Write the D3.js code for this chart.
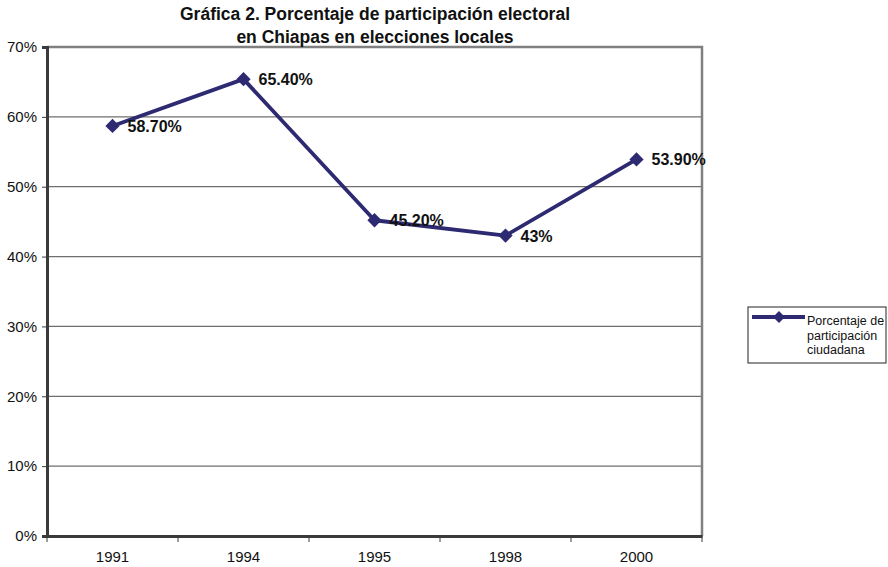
<!DOCTYPE html>
<html>
<head>
<meta charset="utf-8">
<script src="https://cdn.jsdelivr.net/npm/d3@7"></script>
<style>
  html, body { margin: 0; padding: 0; background: #fff; }
  svg { display: block; font-family: "Liberation Sans", Arial, sans-serif; }
</style>
</head>
<body>
<svg id="chart" width="888" height="567"></svg>
<script>
// Electoral turnout in Chiapas, local elections
const years = ["1991", "1994", "1995", "1998", "2000"];
const turnout = [58.7, 65.4, 45.2, 43, 53.9];
const valueLabels = ["58.70%", "65.40%", "45.20%", "43%", "53.90%"];
const yTicks = [0, 10, 20, 30, 40, 50, 60, 70];
const titleLines = ["Gráfica 2. Porcentaje de participación electoral", "en Chiapas en elecciones locales"];
const legendLines = ["Porcentaje de", "participación", "ciudadana"];

const svg = d3.select("#chart");
const plot = { left: 47, right: 702, top: 47, bottom: 536 };
const lineColor = "#2d2a72";
const fontFamily = "'Liberation Sans', Arial, sans-serif";

const x = d3.scaleBand().domain(years).range([plot.left, plot.right]);
const y = d3.scaleLinear().domain([0, 70]).range([plot.bottom, plot.top]);

// Horizontal gridlines
svg.append("g")
  .selectAll("line")
  .data(yTicks.filter(d => d > 0 && d < 70))
  .join("line")
  .attr("x1", plot.left).attr("x2", plot.right)
  .attr("y1", d => y(d)).attr("y2", d => y(d))
  .attr("stroke", "#6f6f6f").attr("stroke-width", 1.2);

// Plot frame: top and right edges
svg.append("path")
  .attr("d", `M${plot.left},${plot.top}H${plot.right}V${plot.bottom}`)
  .attr("fill", "none").attr("stroke", "#808080").attr("stroke-width", 2.5);

// Y axis
const yAxis = svg.append("g")
  .attr("transform", `translate(${plot.left},0)`)
  .call(d3.axisLeft(y).tickValues(yTicks).tickFormat(d => d + "%").tickSize(5).tickPadding(5));
yAxis.select(".domain").attr("stroke", "#3a3a3a").attr("stroke-width", 3);
yAxis.selectAll(".tick line").attr("stroke", "#3a3a3a");
yAxis.selectAll("text").attr("font-size", 15).attr("fill", "#111")
  .attr("font-family", fontFamily);

// X axis with ticks at category boundaries
const xAxis = svg.append("g")
  .attr("transform", `translate(0,${plot.bottom})`)
  .call(d3.axisBottom(x).tickSize(0).tickPadding(15));
xAxis.select(".domain").attr("stroke", "#3a3a3a").attr("stroke-width", 3);
xAxis.selectAll("text").attr("font-size", 15).attr("fill", "#111")
  .attr("font-family", fontFamily);
const bounds = years.map(d => x(d)).concat([x(years[years.length - 1]) + x.bandwidth()]);
xAxis.selectAll(".bound")
  .data(bounds)
  .join("line")
  .attr("class", "bound")
  .attr("x1", d => d).attr("x2", d => d)
  .attr("y1", 0).attr("y2", 6)
  .attr("stroke", "#3a3a3a").attr("stroke-width", 1);

// Series line
const pts = years.map((yr, i) => ({ yr, v: turnout[i], label: valueLabels[i] }));
const cx = d => x(d.yr) + x.bandwidth() / 2;
svg.append("path")
  .datum(pts)
  .attr("d", d3.line().x(cx).y(d => y(d.v)))
  .attr("fill", "none").attr("stroke", lineColor).attr("stroke-width", 3.8)
  .attr("stroke-linejoin", "round");

// Diamond markers
const diamond = d3.symbol().type(d3.symbolDiamond2).size(130);
svg.append("g")
  .selectAll("path")
  .data(pts)
  .join("path")
  .attr("transform", d => `translate(${cx(d)},${y(d.v)})`)
  .attr("d", diamond)
  .attr("fill", lineColor);

// Value labels
svg.append("g")
  .selectAll("text")
  .data(pts)
  .join("text")
  .attr("x", d => cx(d) + 15)
  .attr("y", d => y(d.v) + 6)
  .attr("font-size", 16).attr("font-weight", "bold").attr("fill", "#111")
  .text(d => d.label);

// Title
svg.append("g")
  .selectAll("text")
  .data(titleLines)
  .join("text")
  .attr("x", 375)
  .attr("y", (d, i) => 20 + i * 23)
  .attr("text-anchor", "middle")
  .attr("font-size", 17.5).attr("font-weight", "bold").attr("fill", "#111")
  .text(d => d);

// Legend
const lg = svg.append("g").attr("transform", "translate(748,307)");
lg.append("rect").attr("width", 138).attr("height", 56)
  .attr("fill", "#fff").attr("stroke", "#222").attr("stroke-width", 1);
lg.append("line").attr("x1", 4).attr("x2", 57).attr("y1", 10).attr("y2", 10)
  .attr("stroke", lineColor).attr("stroke-width", 4);
lg.append("path").attr("transform", "translate(31,10)")
  .attr("d", d3.symbol().type(d3.symbolDiamond2).size(90)).attr("fill", lineColor);
lg.selectAll("text.item")
  .data(legendLines)
  .join("text")
  .attr("class", "item")
  .attr("x", 59)
  .attr("y", (d, i) => 18 + i * 14.5)
  .attr("font-size", 12.5).attr("fill", "#111")
  .text(d => d);
</script>
</body>
</html>
